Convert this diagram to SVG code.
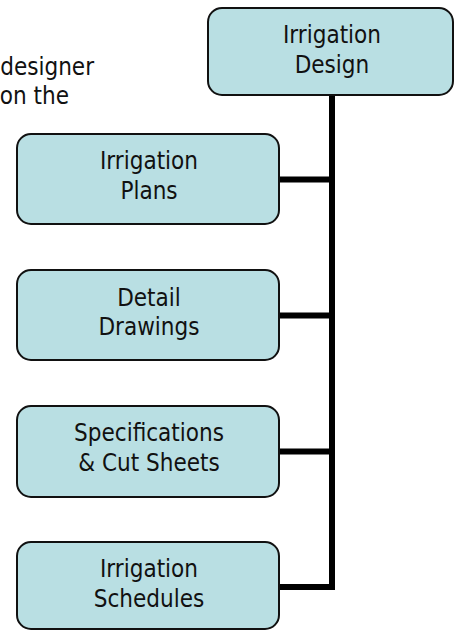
<svg xmlns="http://www.w3.org/2000/svg" width="454" height="630" viewBox="0 0 454 630">
<style>
.box{fill:#B9DFE3;stroke:#111;stroke-width:2}
.lbl{font-family:"DejaVu Sans Condensed","DejaVu Sans",sans-serif;font-stretch:condensed;font-size:24px;fill:#111;text-anchor:middle}
.txt{font-family:"DejaVu Sans Condensed","DejaVu Sans",sans-serif;font-stretch:condensed;font-size:24px;fill:#111}
.con{fill:none;stroke:#000;stroke-width:6;stroke-linejoin:miter}
</style>
<rect width="454" height="630" fill="#fff"/>
<g id="intro">
<text class="txt" x="94" y="75" text-anchor="end">designer</text>
<text class="txt" x="69" y="104" text-anchor="end">on the</text>
</g>
<g id="connectors">
<path class="con" d="M332 95 V587 H279"/>
<path class="con" d="M279 179.5 H332"/>
<path class="con" d="M279 315.5 H332"/>
<path class="con" d="M279 451.5 H332"/>
</g>
<g id="n-design">
<rect class="box" x="208" y="8" width="245" height="87" rx="14"/>
<text class="lbl" x="332" y="43">Irrigation</text>
<text class="lbl" x="332" y="73">Design</text>
</g>
<g id="n-plans">
<rect class="box" x="17" y="134" width="262" height="90" rx="14"/>
<text class="lbl" x="149" y="169">Irrigation</text>
<text class="lbl" x="149" y="199">Plans</text>
</g>
<g id="n-detail">
<rect class="box" x="17" y="270" width="262" height="90" rx="14"/>
<text class="lbl" x="149" y="306">Detail</text>
<text class="lbl" x="149" y="335">Drawings</text>
</g>
<g id="n-specs">
<rect class="box" x="17" y="406" width="262" height="91" rx="14"/>
<text class="lbl" x="149" y="441">Specifications</text>
<text class="lbl" x="149" y="471">&amp; Cut Sheets</text>
</g>
<g id="n-schedules">
<rect class="box" x="17" y="542" width="262" height="87" rx="14"/>
<text class="lbl" x="149" y="577">Irrigation</text>
<text class="lbl" x="149" y="607">Schedules</text>
</g>
</svg>
